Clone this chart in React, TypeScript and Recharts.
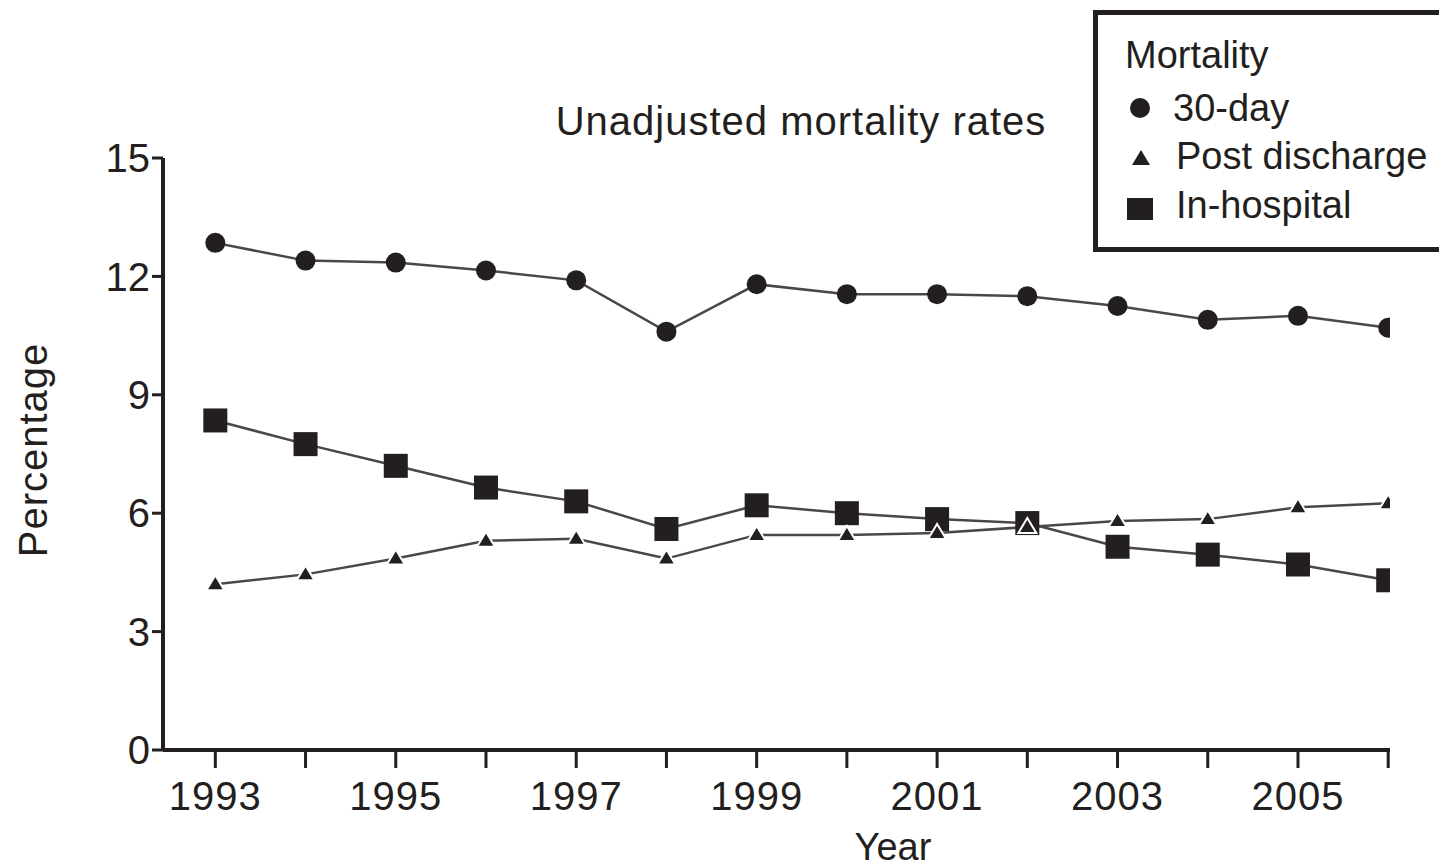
import React from 'react';
import { LineChart, Line, XAxis, YAxis } from 'recharts';

const years = [1993, 1994, 1995, 1996, 1997, 1998, 1999, 2000, 2001, 2002, 2003, 2004, 2005, 2006];
const labeledYears = [1993, 1995, 1997, 1999, 2001, 2003, 2005];
const thirtyDay = [12.85, 12.4, 12.35, 12.15, 11.9, 10.6, 11.8, 11.55, 11.55, 11.5, 11.25, 10.9, 11.0, 10.7];
const postDischarge = [4.2, 4.45, 4.85, 5.3, 5.35, 4.85, 5.45, 5.45, 5.5, 5.65, 5.8, 5.85, 6.15, 6.25];
const inHospital = [8.35, 7.75, 7.2, 6.65, 6.3, 5.6, 6.2, 6.0, 5.85, 5.75, 5.15, 4.95, 4.7, 4.3];
const yTicks = [0, 3, 6, 9, 12, 15];

const data = years.map((y, i) => ({
  year: y,
  thirty: thirtyDay[i],
  post: postDischarge[i],
  hosp: inHospital[i],
}));

const INK = '#231f20';
const LINE = '#4a4748';
const FONT = "'Liberation Sans', Arial, sans-serif";

const CircleDot = (p: any) =>
  p.cx == null ? null : <circle key={`c${p.index}`} cx={p.cx} cy={p.cy} r={10} fill={INK} />;
const SquareDot = (p: any) =>
  p.cx == null ? null : (
    <rect key={`s${p.index}`} x={p.cx - 12} y={p.cy - 12} width={24} height={24} fill={INK} />
  );
const TriangleDot = (p: any) =>
  p.cx == null ? null : (
    <path
      key={`t${p.index}`}
      d={`M${p.cx},${p.cy - 9} L${p.cx + 9},${p.cy + 6} L${p.cx - 9},${p.cy + 6} Z`}
      fill={INK}
      stroke="#fff"
      strokeWidth={2}
    />
  );

export default function App() {
  return (
    <div
      style={{
        position: 'absolute',
        left: 0,
        top: 0,
        width: 1439,
        height: 867,
        overflow: 'hidden',
        background: '#fff',
        fontFamily: FONT,
      }}
    >
      <LineChart
        width={1439}
        height={867}
        data={data}
        margin={{ top: 158, right: 49, bottom: 57, left: 103 }}
      >
        <XAxis
          dataKey="year"
          type="number"
          domain={[1992.42, 2006.02]}
          allowDataOverflow
          ticks={years}
          interval={0}
          tickFormatter={(v: number) => (labeledYears.includes(v) ? String(v) : '')}
          height={60}
          tickSize={18}
          tickMargin={14}
          axisLine={{ stroke: INK, strokeWidth: 4 }}
          tickLine={{ stroke: INK, strokeWidth: 3 }}
          tick={{ fill: INK, fontSize: 40, fontFamily: FONT, letterSpacing: 1 }}
        />
        <YAxis
          type="number"
          domain={[0, 15]}
          ticks={yTicks}
          interval={0}
          width={60}
          tickSize={11}
          tickMargin={2}
          axisLine={{ stroke: INK, strokeWidth: 4 }}
          tickLine={{ stroke: INK, strokeWidth: 3 }}
          tick={{ fill: INK, fontSize: 40, fontFamily: FONT }}
        />
        <Line
          dataKey="hosp"
          type="linear"
          stroke={LINE}
          strokeWidth={2.5}
          dot={SquareDot}
          activeDot={false}
          isAnimationActive={false}
        />
        <Line
          dataKey="post"
          type="linear"
          stroke={LINE}
          strokeWidth={2.5}
          dot={TriangleDot}
          activeDot={false}
          isAnimationActive={false}
        />
        <Line
          dataKey="thirty"
          type="linear"
          stroke={LINE}
          strokeWidth={2.5}
          dot={CircleDot}
          activeDot={false}
          isAnimationActive={false}
        />
      </LineChart>
      <svg
        width={1439}
        height={867}
        style={{ position: 'absolute', left: 0, top: 0, pointerEvents: 'none' }}
      >
        <text
          x={801}
          y={135}
          textAnchor="middle"
          fontSize={40}
          letterSpacing={1}
          fill={INK}
          fontFamily={FONT}
        >
          Unadjusted mortality rates
        </text>
        <text
          transform="translate(47,450) rotate(-90)"
          textAnchor="middle"
          fontSize={40}
          letterSpacing={1}
          fill={INK}
          fontFamily={FONT}
        >
          Percentage
        </text>
        <text x={893} y={860} textAnchor="middle" fontSize={38} fill={INK} fontFamily={FONT}>
          Year
        </text>
        <rect x={1095.5} y={12.5} width={360} height={237} fill="#fff" stroke={INK} strokeWidth={5} />
        <text x={1125} y={68} fontSize={38} fill={INK} fontFamily={FONT}>
          Mortality
        </text>
        <circle cx={1140} cy={108} r={10} fill={INK} />
        <text x={1173} y={121} fontSize={38} fill={INK} fontFamily={FONT}>
          30-day
        </text>
        <path d="M1141,150 L1150,165 L1132,165 Z" fill={INK} />
        <text x={1176} y={169} fontSize={38} fill={INK} fontFamily={FONT}>
          Post discharge
        </text>
        <rect x={1127} y={198} width={26} height={22} fill={INK} />
        <text x={1176} y={218} fontSize={38} fill={INK} fontFamily={FONT}>
          In-hospital
        </text>
      </svg>
    </div>
  );
}
